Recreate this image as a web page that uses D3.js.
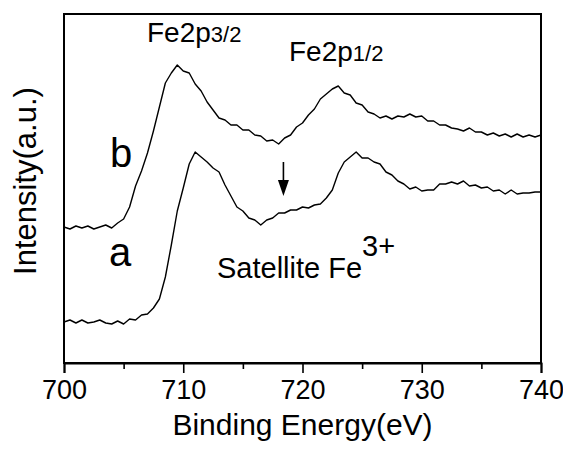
<!DOCTYPE html>
<html>
<head>
<meta charset="utf-8">
<script src="https://cdn.jsdelivr.net/npm/d3@7"></script>
<style>
  body { margin: 0; background: #fff; }
  svg { display: block; font-family: Arial, "Liberation Sans", sans-serif; }
</style>
</head>
<body>
<div id="chart"></div>
<script>
// binding energy grid (eV), 0.5 eV steps
const energies = d3.range(81).map(i => 700 + i * 0.5);

// spectrum b (upper), intensity in a.u.
const spectrumB = [
  136, 134, 137, 135, 137, 134, 136, 138, 135, 140,
  144, 156, 177, 192, 210, 232, 256, 280, 290, 298,
  292, 290, 279, 272, 261, 253, 245, 243, 238, 238,
  233, 233, 228, 227, 222, 223, 219, 225, 228, 236,
  240, 248, 254, 264, 269, 274, 277, 270, 268, 260,
  258, 251, 249, 245, 247, 244, 247, 246, 249, 246,
  247, 242, 242, 238, 238, 235, 234, 232, 235, 231,
  231, 228, 230, 227, 229, 226, 229, 226, 228, 226,
  228
];

// spectrum a (lower)
const spectrumA = [
  41, 43, 40, 43, 40, 41, 43, 40, 39, 42,
  39, 44, 43, 48, 49, 55, 64, 86, 118, 152,
  175, 199, 211, 206, 201, 195, 191, 178, 167, 156,
  152, 145, 143, 138, 143, 145, 150, 150, 153, 153,
  156, 155, 158, 159, 165, 173, 190, 201, 206, 211,
  205, 205, 201, 199, 191, 188, 182, 179, 174, 176,
  172, 173, 173, 179, 179, 181, 179, 182, 177, 178,
  175, 176, 172, 173, 169, 173, 169, 170, 170, 171,
  171
];

const xTicks = [700, 710, 720, 730, 740];

const width = 563, height = 455;
const margin = { top: 14, right: 22, bottom: 92, left: 64 };

const svg = d3.select('#chart')
  .append('svg')
  .attr('width', width)
  .attr('height', height);

const x = d3.scaleLinear()
  .domain([700, 740])
  .range([margin.left, width - margin.right]);

const y = d3.scaleLinear()
  .domain([0, 349])
  .range([height - margin.bottom, margin.top]);

// frame
svg.append('rect')
  .attr('x', margin.left)
  .attr('y', margin.top)
  .attr('width', width - margin.left - margin.right)
  .attr('height', height - margin.top - margin.bottom)
  .attr('fill', 'none')
  .attr('stroke', '#000')
  .attr('stroke-width', 2);

// bottom axis: major ticks with labels, minor ticks between
const xAxis = svg.append('g')
  .attr('transform', `translate(0,${height - margin.bottom})`)
  .call(d3.axisBottom(x).tickValues(xTicks).tickSize(10).tickPadding(7).tickFormat(d3.format('d')));

svg.append('g')
  .attr('transform', `translate(0,${height - margin.bottom})`)
  .call(d3.axisBottom(x).tickValues(d3.range(705, 740, 10)).tickSize(6).tickFormat(''))
  .call(g => g.select('.domain').remove());

svg.selectAll('.tick line').attr('stroke-width', 1.6);
xAxis.select('.domain').attr('stroke-width', 2);
xAxis.selectAll('text').attr('font-size', 27).attr('fill', '#000')
  .attr('font-family', 'Arial, "Liberation Sans", sans-serif');

const line = d3.line()
  .x((d, i) => x(energies[i]))
  .y(d => y(d));

[spectrumB, spectrumA].forEach(s => {
  svg.append('path')
    .datum(s)
    .attr('d', line)
    .attr('fill', 'none')
    .attr('stroke', '#000')
    .attr('stroke-width', 1.4)
    .attr('stroke-linejoin', 'round');
});

// axis titles
svg.append('text')
  .attr('x', x(720))
  .attr('y', 435)
  .attr('text-anchor', 'middle')
  .attr('font-size', 30)
  .text('Binding Energy(eV)');

svg.append('text')
  .attr('transform', `translate(36,181) rotate(-90)`)
  .attr('text-anchor', 'middle')
  .attr('font-size', 31)
  .text('Intensity(a.u.)');

// peak labels
const fe32 = svg.append('text').attr('x', 147).attr('y', 42).attr('font-size', 28);
fe32.append('tspan').text('Fe2p');
fe32.append('tspan').attr('font-size', 22).text('3/2');

const fe12 = svg.append('text').attr('x', 289).attr('y', 61).attr('font-size', 28);
fe12.append('tspan').text('Fe2p');
fe12.append('tspan').attr('font-size', 22).text('1/2');

svg.append('text').attr('x', 110).attr('y', 167).attr('font-size', 40).text('b');
svg.append('text').attr('x', 109).attr('y', 266).attr('font-size', 40).text('a');

const sat = svg.append('text').attr('x', 217).attr('y', 278).attr('font-size', 29);
sat.append('tspan').text('Satellite Fe');
sat.append('tspan').attr('dy', -22).attr('font-size', 29).text('3+');

// arrow marking the satellite
const ax = x(718.4);
svg.append('line')
  .attr('x1', ax).attr('x2', ax)
  .attr('y1', 162).attr('y2', 184)
  .attr('stroke', '#000').attr('stroke-width', 1.6);
svg.append('path')
  .attr('d', `M${ax - 5.5},180 L${ax + 5.5},180 L${ax},196 Z`)
  .attr('fill', '#000');
</script>
</body>
</html>
